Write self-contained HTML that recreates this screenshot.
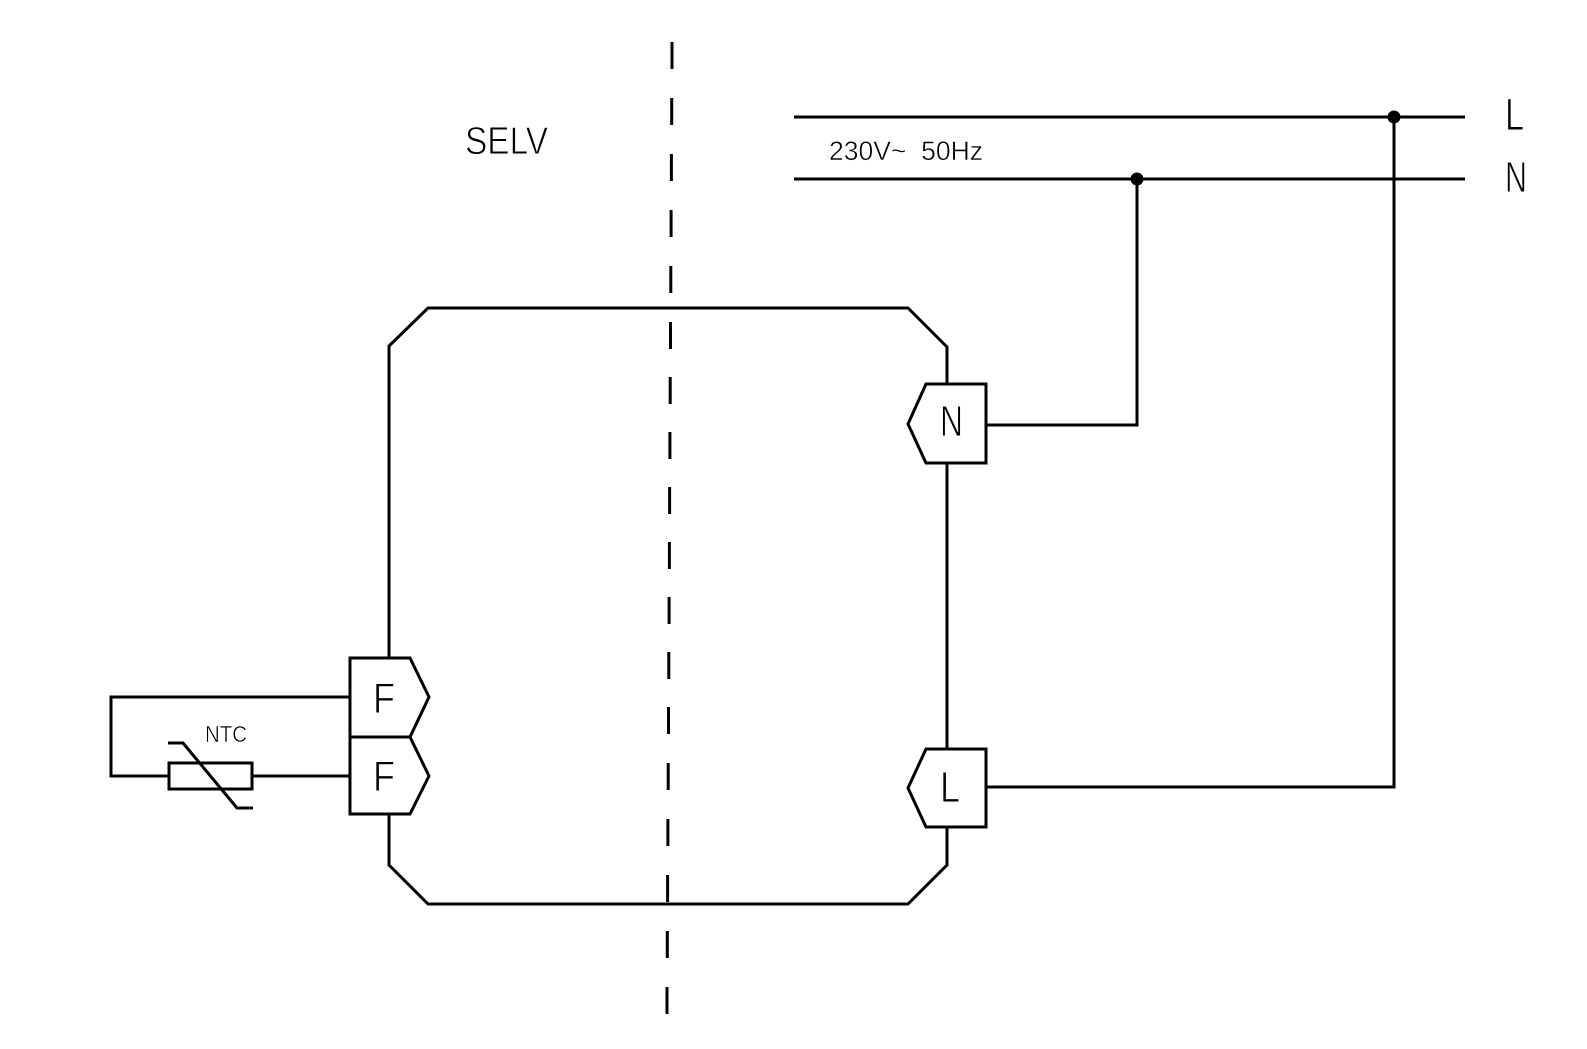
<!DOCTYPE html>
<html>
<head>
<meta charset="utf-8">
<style>
  html, body { margin:0; padding:0; background:#fff; }
  svg { display:block; }
  text { font-family: "Liberation Sans Narrow", "Liberation Sans", sans-serif; fill:#000; }
  text.big { stroke:#fff; stroke-width:0.9px; paint-order: fill stroke; }
  text.small { stroke:#fff; stroke-width:0.5px; paint-order: fill stroke; }
</style>
</head>
<body>
<svg width="1587" height="1049" viewBox="0 0 1587 1049" xmlns="http://www.w3.org/2000/svg">
  <rect width="1587" height="1049" fill="#fff"/>
  <g stroke="#000" stroke-width="3" fill="none" stroke-linejoin="miter">
    <!-- dashed separator -->
    <line x1="672" y1="42" x2="672" y2="69"/>
    <line x1="671.7" y1="98" x2="671.7" y2="125"/>
    <line x1="671.4" y1="154" x2="671.4" y2="181"/>
    <line x1="671.1" y1="210" x2="671.1" y2="237"/>
    <line x1="670.8" y1="266" x2="670.8" y2="293"/>
    <line x1="670.5" y1="322" x2="670.5" y2="349"/>
    <line x1="670.2" y1="377" x2="670.2" y2="404"/>
    <line x1="669.9" y1="432" x2="669.9" y2="459"/>
    <line x1="669.6" y1="487" x2="669.6" y2="514"/>
    <line x1="669.4" y1="542" x2="669.4" y2="569"/>
    <line x1="669.1" y1="597" x2="669.1" y2="624"/>
    <line x1="668.8" y1="652" x2="668.8" y2="679"/>
    <line x1="668.5" y1="707" x2="668.5" y2="734"/>
    <line x1="668.2" y1="763" x2="668.2" y2="790"/>
    <line x1="667.9" y1="819" x2="667.9" y2="846"/>
    <line x1="667.6" y1="875" x2="667.6" y2="902"/>
    <line x1="667.3" y1="931" x2="667.3" y2="958"/>
    <line x1="667" y1="987" x2="667" y2="1014"/>

    <!-- main box -->
    <polyline points="389,658 389,346 428,308 908,308 947,347 947,384"/>
    <line x1="947" y1="463" x2="947" y2="749"/>
    <polyline points="947,827 947,865 908,904 428,904 389,865 389,814"/>

    <!-- F terminals -->
    <polygon points="350,658 410,658 429,697 410,737 350,737"/>
    <polygon points="350,737 410,737 429,776 410,814 350,814"/>

    <!-- N / L terminals -->
    <polygon points="926,384 986,384 986,463 926,463 908,424"/>
    <polygon points="926,749 986,749 986,827 926,827 908,788"/>

    <!-- NTC circuit -->
    <polyline points="350,697 111,697 111,776 169,776"/>
    <line x1="252" y1="776" x2="350" y2="776"/>
    <rect x="169" y="763" width="83" height="26"/>
    <polyline points="168,743 183,743 237,808 253,808"/>

    <!-- mains lines -->
    <line x1="794" y1="117" x2="1465" y2="117"/>
    <line x1="794" y1="179" x2="1465" y2="179"/>

    <!-- connections -->
    <polyline points="986,425 1137,425 1137,179"/>
    <polyline points="986,787 1394,787 1394,117"/>
  </g>
  <circle cx="1394" cy="117" r="6.5" fill="#000"/>
  <circle cx="1137" cy="179" r="6.5" fill="#000"/>

  <!-- labels -->
  <text class="big" x="465" y="154" font-size="39" textLength="83" lengthAdjust="spacingAndGlyphs">SELV</text>
  <text class="small" x="829" y="160" font-size="27" textLength="154" lengthAdjust="spacingAndGlyphs" xml:space="preserve">230V~  50Hz</text>
  <text class="big" x="1505" y="130" font-size="45" textLength="19" lengthAdjust="spacingAndGlyphs">L</text>
  <text class="big" x="1505" y="192" font-size="44" textLength="22" lengthAdjust="spacingAndGlyphs">N</text>
  <text class="big" x="940" y="436" font-size="44" textLength="23" lengthAdjust="spacingAndGlyphs">N</text>
  <text class="big" x="940" y="802" font-size="44" textLength="20" lengthAdjust="spacingAndGlyphs">L</text>
  <text class="big" x="373" y="713" font-size="43" textLength="22" lengthAdjust="spacingAndGlyphs">F</text>
  <text class="big" x="373" y="791" font-size="43" textLength="22" lengthAdjust="spacingAndGlyphs">F</text>
  <text class="small" x="205" y="742" font-size="23" textLength="42" lengthAdjust="spacingAndGlyphs">NTC</text>
</svg>
</body>
</html>
